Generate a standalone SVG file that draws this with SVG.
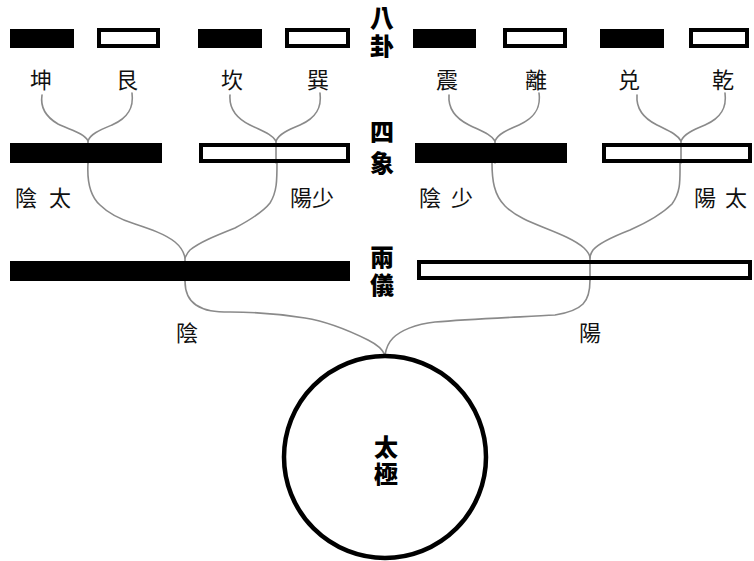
<svg xmlns="http://www.w3.org/2000/svg" width="754" height="561" viewBox="0 0 754 561">
<style>
.bk{fill:#000}
.wh{fill:none;stroke:#000;stroke-width:4}
.cn{fill:none;stroke:#8a8a8a;stroke-width:1.6;stroke-linecap:round;stroke-linejoin:round}
.lb{font-family:"Noto Sans CJK TC","Noto Sans CJK JP",sans-serif;font-size:22px;fill:#111;text-anchor:middle}
.hd{font-family:"Noto Sans CJK TC","Noto Sans CJK JP",sans-serif;font-size:24px;font-weight:900;fill:#000;text-anchor:middle;writing-mode:vertical-rl}
</style>
<rect width="754" height="561" fill="#fff"/>
<g id="connectors">
<path class="cn" d="M42,95 C40,108 46,117 58,124 C70,130 84,133 88,141 L88,163"/>
<path class="cn" d="M132,93 C134,108 128,118 112,125 C100,130 90,134 88,141"/>
<path class="cn" d="M230,95 C229,108 236,118 250,125 C262,131 272,134 276,141 L276,163"/>
<path class="cn" d="M320,93 C322,108 316,118 300,125 C288,130 279,134 276,141"/>
<path class="cn" d="M449,95 C448,108 455,118 469,125 C481,131 491,134 495,141 L495,163"/>
<path class="cn" d="M539,93 C541,108 535,118 519,125 C507,130 498,134 495,141"/>
<path class="cn" d="M637,95 C636,108 643,118 657,125 C669,131 677,134 681,141 L681,163"/>
<path class="cn" d="M725,93 C727,108 721,118 705,125 C693,130 684,134 681,141"/>
<path class="cn" d="M88,163 C87,180 90,196 100,205 C110,215 122,220 135,224 C150,229 165,234 175,242 C181,247 184,252 185,258 L185,281"/>
<path class="cn" d="M277,163 C277,180 277,192 270,203 C263,212 250,220 235,228 C215,236 200,242 190,250 C187,253 186,256 185,258"/>
<path class="cn" d="M492,163 C492,180 494,195 505,206 C515,216 530,222 545,228 C560,234 575,240 584,248 C588,252 590,255 590,258 L590,280"/>
<path class="cn" d="M680,163 C680,180 681,192 672,204 C662,214 648,222 630,230 C612,237 598,244 593,250 C591,253 590,256 590,258"/>
<path class="cn" d="M185,281 C185,290 187,299 196,305 C205,311 215,312 230,312 C255,312 280,314 305,318 C330,322 352,332 368,340 C376,344 382,348 385,355"/>
<path class="cn" d="M590,280 C590,290 589,298 583,304 C577,310 568,313 555,315 C520,317 470,319 435,322 C415,324 400,331 393,338 C388,343 386,349 385,355"/>
</g>
<g id="gua8">
<rect id="kun" class="bk" x="10" y="29" width="64" height="19"/>
<rect id="gen" class="wh" x="99" y="30" width="59" height="16"/>
<rect id="kan" class="bk" x="198" y="29" width="64" height="19"/>
<rect id="xun" class="wh" x="287" y="30" width="61" height="16"/>
<rect id="zhen" class="bk" x="413" y="29" width="63" height="19"/>
<rect id="li" class="wh" x="505" y="30" width="60" height="16"/>
<rect id="dui" class="bk" x="600" y="29" width="64" height="19"/>
<rect id="qian" class="wh" x="691" y="30" width="56" height="16"/>
</g>
<g id="labels8" class="lb">
<text x="41" y="88">坤</text>
<text x="127" y="88">艮</text>
<text x="232" y="88">坎</text>
<text x="318" y="88">巽</text>
<text x="447" y="88">震</text>
<text x="536" y="88">離</text>
<text x="629" y="88">兑</text>
<text x="723" y="88">乾</text>
</g>
<g id="sixiang">
<rect id="taiyin" class="bk" x="10" y="143" width="152" height="20"/>
<rect id="shaoyang" class="wh" x="201" y="145" width="147" height="16"/>
<rect id="shaoyin" class="bk" x="415" y="143" width="152" height="20"/>
<rect id="taiyang" class="wh" x="604" y="145" width="146" height="16"/>
<g class="lb">
<text x="26" y="206">陰</text><text x="60" y="206">太</text>
<text x="301" y="206">陽</text><text x="323" y="206">少</text>
<text x="430" y="206">陰</text><text x="462" y="206">少</text>
<text x="705" y="206">陽</text><text x="736" y="206">太</text>
</g>
</g>
<g id="liangyi">
<rect id="yin" class="bk" x="10" y="261" width="340" height="20"/>
<rect id="yang" class="wh" x="419" y="262" width="331" height="16"/>
<text class="lb" x="187" y="341">陰</text>
<text class="lb" x="590" y="341">陽</text>
</g>
<g id="headings">
<text class="hd" x="382" y="34" letter-spacing="4">八卦</text>
<text class="hd" x="382" y="151" letter-spacing="7">四象</text>
<text class="hd" x="382" y="273" letter-spacing="4">兩儀</text>
</g>
<g id="taiji">
<circle cx="385" cy="457" r="101" fill="none" stroke="#000" stroke-width="4.5"/>
<text class="hd" x="386" y="462" letter-spacing="3">太極</text>
</g>
</svg>
